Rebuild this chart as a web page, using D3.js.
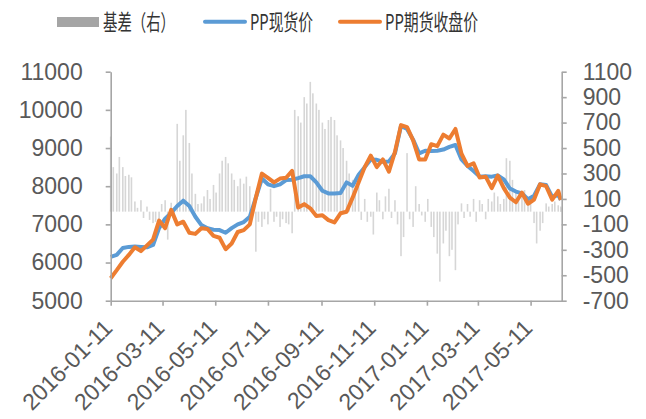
<!DOCTYPE html>
<html lang="zh">
<head>
  <meta charset="UTF-8">
  <title>PP 基差</title>
  <script src="https://d3js.org/d3.v7.min.js"></script>
  <style>
    body { margin: 0; background: #fff; }
    svg { display: block; font-family: Arial, "Liberation Sans", sans-serif; }
    .axis path, .axis line { stroke: #a6a6a6; stroke-width: 1.6; }
    .axis text { fill: #595959; font-size: 23px; font-family: Arial, "Liberation Sans", sans-serif; }
    .legend text { fill: #333; font-size: 22px; font-family: "Noto Sans CJK SC", sans-serif; }
  </style>
</head>
<body>
  <svg width="646" height="419"></svg>

  <script>
    // weekly dates (Mondays) + last day shown
    const dates = [
      '2016-01-11','2016-01-18','2016-01-25','2016-02-01','2016-02-08','2016-02-15','2016-02-22','2016-02-29',
      '2016-03-07','2016-03-14','2016-03-21','2016-03-28','2016-04-04','2016-04-11','2016-04-18','2016-04-25',
      '2016-05-02','2016-05-09','2016-05-16','2016-05-23','2016-05-30','2016-06-06','2016-06-13','2016-06-20',
      '2016-06-27','2016-07-04','2016-07-11','2016-07-18','2016-07-25','2016-08-01','2016-08-08','2016-08-15',
      '2016-08-22','2016-08-29','2016-09-05','2016-09-12','2016-09-19','2016-09-26','2016-10-03','2016-10-10',
      '2016-10-17','2016-10-24','2016-10-31','2016-11-07','2016-11-14','2016-11-21','2016-11-28','2016-12-05',
      '2016-12-12','2016-12-19','2016-12-26','2017-01-02','2017-01-09','2017-01-16','2017-01-23','2017-01-30',
      '2017-02-06','2017-02-13','2017-02-20','2017-02-27','2017-03-06','2017-03-13','2017-03-20','2017-03-27',
      '2017-04-03','2017-04-10','2017-04-17','2017-04-24','2017-05-01','2017-05-08','2017-05-15','2017-05-22',
      '2017-05-29','2017-06-05','2017-06-12','2017-06-15'
    ];

    // PP现货价
    const spot = [
      6150,6200,6380,6410,6420,6410,6400,6460,6900,7150,
      7300,7480,7620,7480,7200,6980,6900,6860,6850,6780,
      6900,7000,7060,7200,7700,8200,8050,8000,8050,8160,
      8170,8210,8260,8260,8100,7880,7810,7810,7820,8100,
      8010,8300,8500,8700,8690,8640,8650,8860,9580,9500,
      9220,8860,8930,8920,8930,8960,9030,9080,8700,8530,
      8400,8250,8260,8250,8280,8180,7940,7860,7810,7660,
      7750,8050,8030,7720,7770,7640
    ];

    // PP期货收盘价
    const futures = [
      5590,5800,6020,6200,6400,6300,6450,6600,7100,6900,
      7380,7000,7070,6780,6750,6900,6880,6700,6650,6350,
      6500,6800,6850,7000,7700,8330,8220,8100,8200,8220,
      8400,7440,7530,7420,7220,7240,7110,7050,7290,7330,
      7700,8100,8500,8800,8500,8700,8380,8900,9600,9550,
      9200,8700,8700,9100,9050,9350,9250,9500,8850,8530,
      8600,8230,8250,7950,8280,7950,7700,7580,7830,7540,
      7650,8050,8000,7650,7880,7640
    ];

    // 基差（右）, on the weekly dates
    const basisA = [
      590,300,350,290,80,90,40,-90,-60,90,
      70,690,600,540,140,65,170,210,300,430,
      300,200,220,200,-315,-120,-100,-80,-120,-90,
      -170,750,900,1020,850,700,720,720,560,400,
      250,200,100,-40,150,-60,180,90,-350,460,
      -120,60,-80,-120,-330,-250,-350,-460,65,60,
      100,90,-60,80,120,100,400,170,150,90,
      -90,-150,65,60,50,40
    ];
    // 基差（右）, three days after each weekly date
    const basisB = [
      350,430,280,270,30,-50,-65,-80,60,-220,
      -40,400,800,300,60,120,100,150,400,380,
      250,260,275,40,-80,-60,180,-40,-60,-100,
      800,700,850,930,800,650,745,600,500,300,
      150,-65,-80,-180,90,120,-50,-100,-200,-60,
      200,-30,100,-200,-550,-150,-300,-100,-50,-40,
      -80,60,100,150,60,420,250,120,170,60,
      -250,-90,40,80,30
    ];

    const xTicks = ['2016-01-11','2016-03-11','2016-05-11','2016-07-11','2016-09-11',
                    '2016-11-11','2017-01-11','2017-03-11','2017-05-11'];
    const leftTicks = [5000,6000,7000,8000,9000,10000,11000];
    const rightTicks = [-700,-500,-300,-100,100,300,500,700,900,1100];

    const parse = d3.timeParse('%Y-%m-%d');
    const svg = d3.select('svg');
    const plot = { left: 110.7, right: 561.7, top: 71.7, bottom: 300.7 };

    const xScale = d3.scaleTime()
      .domain([parse('2016-01-11'), parse('2017-06-16')])
      .range([plot.left, plot.right]);
    const yLeft = d3.scaleLinear().domain([5000, 11000]).range([plot.bottom, plot.top]);
    const yRight = d3.scaleLinear().domain([-700, 1100]).range([plot.bottom, plot.top]);

    // basis bars
    const bars = [];
    dates.forEach((d, i) => {
      bars.push({ date: parse(d), v: basisA[i] });
      if (i < basisB.length) bars.push({ date: d3.timeDay.offset(parse(d), 3), v: basisB[i] });
    });
    svg.append('g').selectAll('rect')
      .data(bars)
      .enter()
      .append('rect')
      .attr('x', d => xScale(d.date) - 0.8)
      .attr('width', 1.6)
      .attr('y', d => Math.min(yRight(d.v), yRight(0)))
      .attr('height', d => Math.abs(yRight(d.v) - yRight(0)))
      .attr('fill', '#d6d6d6');

    // lines
    const line = vals => d3.line()
      .x((d, i) => xScale(parse(dates[i])))
      .y(d => yLeft(d))(vals);

    svg.append('path')
      .attr('d', line(spot))
      .attr('fill', 'none')
      .attr('stroke', '#5b9bd5')
      .attr('stroke-width', 4)
      .attr('stroke-linejoin', 'round');

    svg.append('path')
      .attr('d', line(futures))
      .attr('fill', 'none')
      .attr('stroke', '#ed7d31')
      .attr('stroke-width', 4)
      .attr('stroke-linejoin', 'round');

    // axes
    const plain = d => String(d);

    svg.append('g')
      .attr('class', 'axis')
      .attr('transform', `translate(${plot.left},0)`)
      .call(d3.axisLeft(yLeft).tickValues(leftTicks).tickFormat(plain)
        .tickSize(5).tickPadding(23).tickSizeOuter(0));

    svg.append('g')
      .attr('class', 'axis')
      .attr('transform', `translate(${plot.right},0)`)
      .call(d3.axisRight(yRight).tickValues(rightTicks).tickFormat(plain)
        .tickSize(5).tickPadding(16).tickSizeOuter(0));

    const xAxis = svg.append('g')
      .attr('class', 'axis')
      .attr('transform', `translate(0,${plot.bottom})`)
      .call(d3.axisBottom(xScale)
        .tickValues(xTicks.map(parse))
        .tickFormat(d3.timeFormat('%Y-%m-%d'))
        .tickSize(5)
        .tickSizeOuter(0));

    xAxis.selectAll('text')
      .attr('x', 0)
      .attr('y', 0)
      .attr('dy', '0.35em')
      .attr('text-anchor', 'end')
      .attr('transform', 'translate(-3,23) rotate(-45)');

    // legend
    const legend = svg.append('g').attr('class', 'legend');
    legend.append('rect')
      .attr('x', 57).attr('y', 17).attr('width', 42).attr('height', 10)
      .attr('fill', '#a5a5a5');
    legend.append('text')
      .attr('x', 103).attr('y', 30)
      .attr('textLength', 72).attr('lengthAdjust', 'spacingAndGlyphs')
      .text('基差（右）');
    legend.append('line')
      .attr('x1', 205).attr('x2', 245).attr('y1', 21.7).attr('y2', 21.7)
      .attr('stroke', '#5b9bd5').attr('stroke-width', 4).attr('stroke-linecap', 'round');
    legend.append('text')
      .attr('x', 250).attr('y', 30)
      .attr('textLength', 63).attr('lengthAdjust', 'spacingAndGlyphs')
      .text('PP现货价');
    legend.append('line')
      .attr('x1', 340).attr('x2', 380).attr('y1', 21.7).attr('y2', 21.7)
      .attr('stroke', '#ed7d31').attr('stroke-width', 4).attr('stroke-linecap', 'round');
    legend.append('text')
      .attr('x', 385).attr('y', 30)
      .attr('textLength', 93).attr('lengthAdjust', 'spacingAndGlyphs')
      .text('PP期货收盘价');
  </script>
</body>
</html>
